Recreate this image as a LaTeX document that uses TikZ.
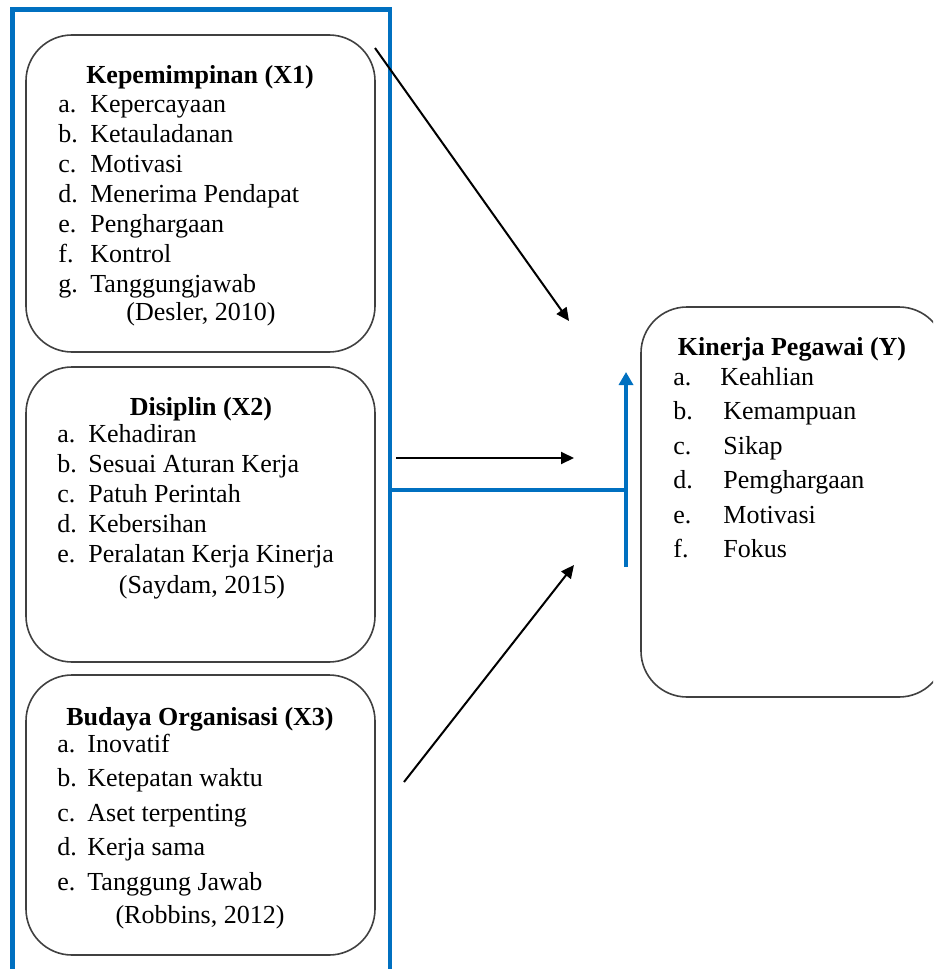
\documentclass[tikz,border=0pt]{standalone}
\usepackage{fontspec}
\setmainfont{Liberation Serif}
\usepackage{array}
\usetikzlibrary{arrows.meta, positioning, fit}
\definecolor{frameblue}{RGB}{0,112,192}
\definecolor{boxgray}{RGB}{64,64,64}

\begin{document}
\begin{tikzpicture}[
    x=0.5pt, y=-0.5pt,
    varbox/.style={rectangle, draw=boxgray, line width=0.8pt, rounded corners=23pt, inner sep=0pt},
    group/.style={rectangle, draw=frameblue, line width=2.2pt, inner sep=0pt},
    head/.style={anchor=base, font=\fontsize{13}{15}\selectfont\bfseries, inner sep=0pt},
    list/.style={anchor=base west, font=\fontsize{13}{15}\selectfont, inner sep=0pt},
    source/.style={anchor=base, font=\fontsize{13}{15}\selectfont, inner sep=0pt},
    arr/.style={-{Triangle[length=6.5pt, width=6pt]}, line width=1pt},
    blueline/.style={draw=frameblue, line width=2pt},
    bluearr/.style={-{Triangle[length=6.5pt, width=7pt]}, draw=frameblue, fill=frameblue, line width=2pt}
]
\useasboundingbox (0,0) rectangle (933,969);
\clip (0,0) rectangle (933,969);

% Group frame
\node[group, fit={(12.5,9.5) (390,1010)}] (grp) {};

% Kepemimpinan (X1)
\node[varbox, fit={(26,35) (375,352)}] (x1) {};
\node[head] (h1) at (200,83) {Kepemimpinan (X1)};
\node[list] (l1) at (58,112.5) {\begin{tabular}[t]{@{}p{16pt}@{}l@{}}
a. & Kepercayaan\\
b. & Ketauladanan\\
c. & Motivasi\\
d. & Menerima Pendapat\\
e. & Penghargaan\\
f. & Kontrol\\
g. & Tanggungjawab
\end{tabular}};
\node[source] (s1) at (201,320) {(Desler, 2010)};

% Disiplin (X2)
\node[varbox, fit={(26,367) (375,662)}] (x2) {};
\node[head] (h2) at (201,415) {Disiplin (X2)};
\node[list] (l2) at (57,442) {\begin{tabular}[t]{@{}p{15.5pt}@{}l@{}}
a. & Kehadiran\\
b. & Sesuai Aturan Kerja\\
c. & Patuh Perintah\\
d. & Kebersihan\\
e. & Peralatan Kerja Kinerja
\end{tabular}};
\node[source] (s2) at (202,593) {(Saydam, 2015)};

% Budaya Organisasi (X3)
\node[varbox, fit={(26,675) (375,955)}] (x3) {};
\node[head] (h3) at (200,725) {Budaya Organisasi (X3)};
\node[list] (l3) at (57,752) {\renewcommand\arraystretch{1.15}\begin{tabular}[t]{@{}p{15pt}@{}l@{}}
a. & Inovatif\\
b. & Ketepatan waktu\\
c. & Aset terpenting\\
d. & Kerja sama\\
e. & Tanggung Jawab
\end{tabular}};
\node[source] (s3) at (200,923) {(Robbins, 2012)};

% Kinerja Pegawai (Y)
\node[varbox, fit={(641,307) (945,697)}] (y) {};
\node[head] (hy) at (792,355) {Kinerja Pegawai (Y)};
\node[list] (ly) at (673,385) {\renewcommand\arraystretch{1.15}\begin{tabular}[t]{@{}p{25pt}@{}l@{}}
a. & \hspace{-1.5pt}Keahlian\\
b. & Kemampuan\\
c. & Sikap\\
d. & Pemghargaan\\
e. & Motivasi\\
f. & Fokus
\end{tabular}};

% Arrows
\coordinate (a1s) at (375,48);
\coordinate (a1e) at (569,321);
\coordinate (a2s) at (396,458);
\coordinate (a2e) at (574,458);
\coordinate (a3s) at (404,782);
\coordinate (a3e) at (574,565);
\draw[arr] (a1s) -- (a1e);
\draw[arr] (a2s) -- (a2e);
\draw[arr] (a3s) -- (a3e);

% Simultaneous effect
\coordinate (joint) at (626,490);
\coordinate (vbot) at (626,567);
\coordinate (vtop) at (626,372);
\draw[blueline] (grp.east |- joint) -- (joint);
\draw[bluearr] (vbot) -- (vtop);
\end{tikzpicture}
\end{document}
